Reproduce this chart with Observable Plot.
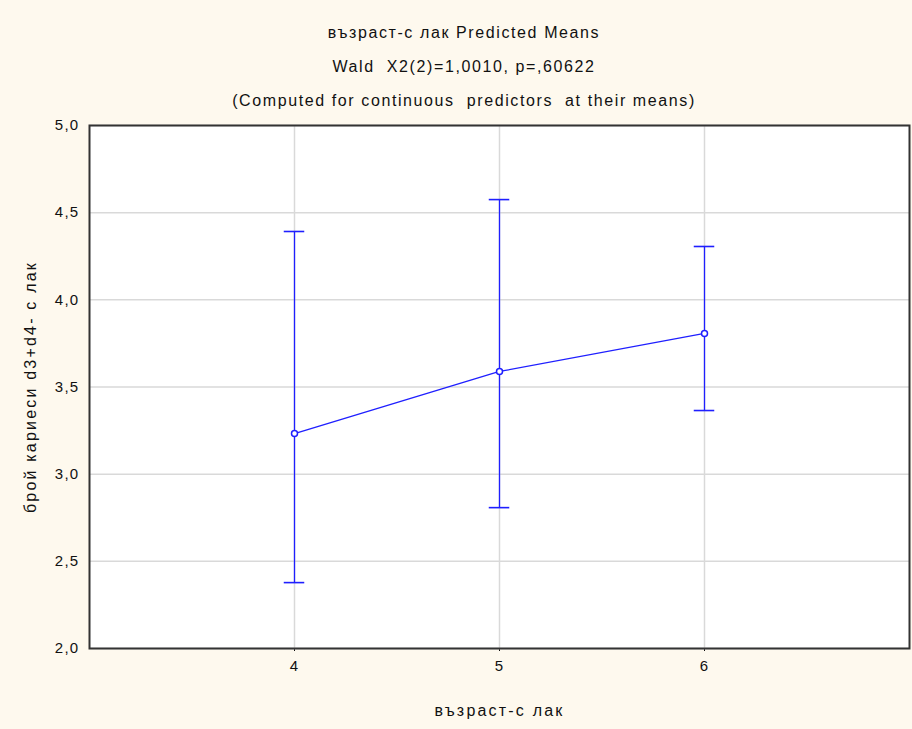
<!DOCTYPE html>
<html>
<head>
<meta charset="utf-8">
<script src="https://cdn.jsdelivr.net/npm/d3@7"></script>
<script src="https://cdn.jsdelivr.net/npm/@observablehq/plot@0.6"></script>
<style>
  html, body { margin: 0; padding: 0; background: #fef9ee; }
  #wrap { width: 912px; height: 729px; background: #fef9ee; font-family: "Liberation Sans", Arial, sans-serif; }
  #titles { height: 115px; box-sizing: border-box; padding-top: 16px; padding-left: 16px; text-align: center; font-size: 16px; letter-spacing: 1.6px; color: #111; line-height: 34px; }
</style>
</head>
<body>
<div id="wrap">
  <div id="titles">
    <div>възраст-с лак Predicted Means</div>
    <div>Wald &nbsp;X2(2)=1,0010, p=,60622</div>
    <div>(Computed for continuous &nbsp;predictors &nbsp;at their means)</div>
  </div>
  <div id="chart"></div>
</div>
<script>
const ages = [4, 5, 6];
const means = [3.233, 3.589, 3.807];
const lower = [2.378, 2.808, 3.365];
const upper = [4.392, 4.575, 4.306];
const yTicks = [2.0, 2.5, 3.0, 3.5, 4.0, 4.5, 5.0];
const xTicks = [4, 5, 6];
const capHalf = 0.05;

const data = ages.map((a, i) => ({x: a, mean: means[i], lo: lower[i], hi: upper[i]}));
const caps = data.flatMap(d => [{x: d.x, y: d.lo}, {x: d.x, y: d.hi}]);
const blue = "#1f1fff";
const comma = d => d.toFixed(1).replace(".", ",");

const chart = Plot.plot({
  width: 912,
  height: 614,
  marginTop: 10,
  marginBottom: 81,
  marginLeft: 89,
  marginRight: 3,
  style: {fontFamily: "Liberation Sans, Arial, sans-serif", fontSize: "15px", color: "#111", background: "transparent"},
  x: {domain: [3, 7], ticks: xTicks, tickFormat: d => String(d), tickSize: 3, tickPadding: 9, label: "възраст-с лак", labelAnchor: "center", labelOffset: 67, labelArrow: "none"},
  y: {domain: [2, 5], ticks: yTicks, tickFormat: comma, tickSize: 0, tickPadding: 10, label: "брой кариеси d3+d4- с лак", labelAnchor: "center", labelOffset: 65, labelArrow: "none"},
  marks: [
    Plot.frame({fill: "white", stroke: null}),
    Plot.gridX(xTicks, {stroke: "#d9d9d9", strokeOpacity: 1, strokeWidth: 1.5}),
    Plot.gridY(yTicks, {stroke: "#d9d9d9", strokeOpacity: 1, strokeWidth: 1.5}),
    Plot.frame({stroke: "#333", strokeWidth: 2}),
    Plot.ruleX(data, {x: "x", y1: "lo", y2: "hi", stroke: blue, strokeWidth: 1.3}),
    Plot.ruleY(caps, {y: "y", x1: d => d.x - capHalf, x2: d => d.x + capHalf, stroke: blue, strokeWidth: 1.6}),
    Plot.line(data, {x: "x", y: "mean", stroke: blue, strokeWidth: 1.3}),
    Plot.dot(data, {x: "x", y: "mean", r: 3, stroke: blue, strokeWidth: 1.5, fill: "white"})
  ]
});
const svg = d3.select(chart);
svg.selectAll('g[aria-label="x-axis tick label"] text, g[aria-label="y-axis tick label"] text').style("letter-spacing", "1.3px");
svg.selectAll('g[aria-label="x-axis label"] text, g[aria-label="y-axis label"] text').style("font-size", "16px").style("letter-spacing", "2.2px");
document.getElementById("chart").appendChild(chart);
</script>
</body>
</html>
